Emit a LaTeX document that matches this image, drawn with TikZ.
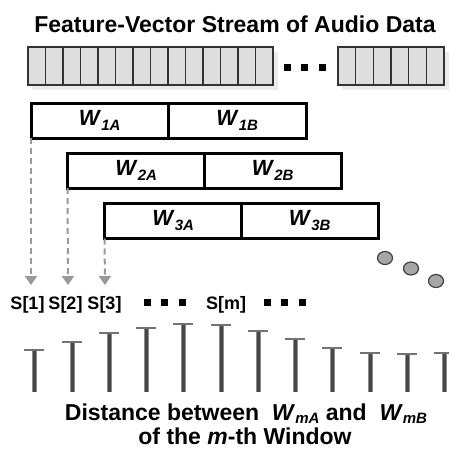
\documentclass[tikz,border=0pt]{standalone}
\usepackage{fontspec}
\setmainfont{Liberation Sans}
\usetikzlibrary{arrows.meta,shapes.geometric}
\newcommand\fsz[1]{\fontsize{#1}{#1}\selectfont}
\newcommand\Wl[3][14]{\textit{W}\raisebox{-#3}{\fsz{#1}\textit{#2}}}
\definecolor{cellfill}{HTML}{DEDEDE}
\definecolor{cellline}{HTML}{333333}
\definecolor{shadowc}{HTML}{EBEBEB}
\definecolor{arrowc}{HTML}{999999}
\begin{document}
\begin{tikzpicture}[x=1pt,y=-1pt,
  half/.style={draw=black,line width=3pt,fill=white,rectangle,minimum width=137.5pt,minimum height=35pt,inner sep=0pt,outer sep=0pt,font=\bfseries\fsz{22}},
  dasharrow/.style={draw=arrowc,line width=2pt,dash pattern=on 6pt off 4pt,-{Triangle[width=12pt,length=9pt]}},
  dotc/.style={ellipse,draw=black!75,line width=1.2pt,fill=black!35,minimum width=15pt,minimum height=13pt,inner sep=0pt},
  sq/.style={fill=black,rectangle,minimum size=7pt,inner sep=0pt},
  slab/.style={font=\bfseries\fsz{18},inner sep=0pt,anchor=base},
  cell/.style={fill=cellfill,draw=cellline,line width=1.3pt},
  bigtext/.style={font=\bfseries\fsz{23},inner sep=0pt,anchor=base}
]
\clip (0,0) rectangle (449,450);
\fill[white] (0,0) rectangle (449,450);

% title
\node[bigtext] (title) at (235,32.5) {Feature-Vector Stream of Audio Data};

% stream
\fill[shadowc] (32,52) rectangle (278,90);
\fill[shadowc] (342,52) rectangle (449,90);
\foreach \i in {0,...,13}{
  \draw[cell] ({28+17.5*\i},47) rectangle ({28+17.5*(\i+1)},85);
}
\foreach \i in {0,...,5}{
  \draw[cell] ({338+17.67*\i},47) rectangle ({338+17.67*(\i+1)},85);
}
\node[sq] (sd1) at (287,67) {};
\node[sq] (sd2) at (304.5,67) {};
\node[sq] (sd3) at (322,67) {};

% windows
\node[half] (w1a) at (99.75,120.5) {\Wl[15]{1A}{5pt}};
\node[half] (w1b) at (237.25,120.5) {\Wl[15]{1B}{5pt}};
\node[half] (w2a) at (136.25,170.5) {\Wl[15]{2A}{5pt}};
\node[half] (w2b) at (272.75,170.5) {\Wl[15]{2B}{5pt}};
\node[half] (w3a) at (173.25,221) {\Wl[15]{3A}{5pt}};
\node[half] (w3b) at (309.75,221) {\Wl[15]{3B}{5pt}};

% dashed arrows
\coordinate (e1) at (31,285);
\coordinate (e2) at (68,285);
\coordinate (e3) at (105,285);
\draw[dasharrow] (w1a.south west) -- (e1);
\draw[dasharrow] (w2a.south west) -- (e2);
\draw[dasharrow] (w3a.south west) -- (e3);

% continuation dots
\node[dotc] (c1) at (385,258) {};
\node[dotc] (c2) at (411,268.5) {};
\node[dotc] (c3) at (436,281) {};

% S labels
\node[slab] (s1) at (27.5,309) {S[1]};
\node[slab] (s2) at (65.5,309) {S[2]};
\node[slab] (s3) at (104.5,309) {S[3]};
\node[sq] (q1) at (147,302) {};
\node[sq] (q2) at (164,302) {};
\node[sq] (q3) at (182,302) {};
\node[slab] (sm) at (226,309) {S[m]};
\node[sq] (q4) at (267,302) {};
\node[sq] (q5) at (284,302) {};
\node[sq] (q6) at (302,302) {};

% bars
\foreach \x/\t in {34/350,72/342,109/333,146/328,183/324,221/325,258/331,295/339,332/348,370/353,407/354,444/353}{
  \draw[line width=5pt,black!45] (\x,392) -- (\x,{\t+1});
  \draw[line width=3pt,black!72] (\x,392) -- (\x,{\t+1});
  \draw[line width=2pt,black!55] ({\x-10},\t) -- ({\x+10},\t);
}

% bottom caption
\node[bigtext] (cap1) at (246,420) {Distance between\ \ \Wl[15]{mA}{3.5pt}\ and\ \ \Wl[15]{mB}{3.5pt}};
\node[bigtext] (cap2) at (245,444) {of the \textit{m}-th Window};
\end{tikzpicture}
\end{document}
